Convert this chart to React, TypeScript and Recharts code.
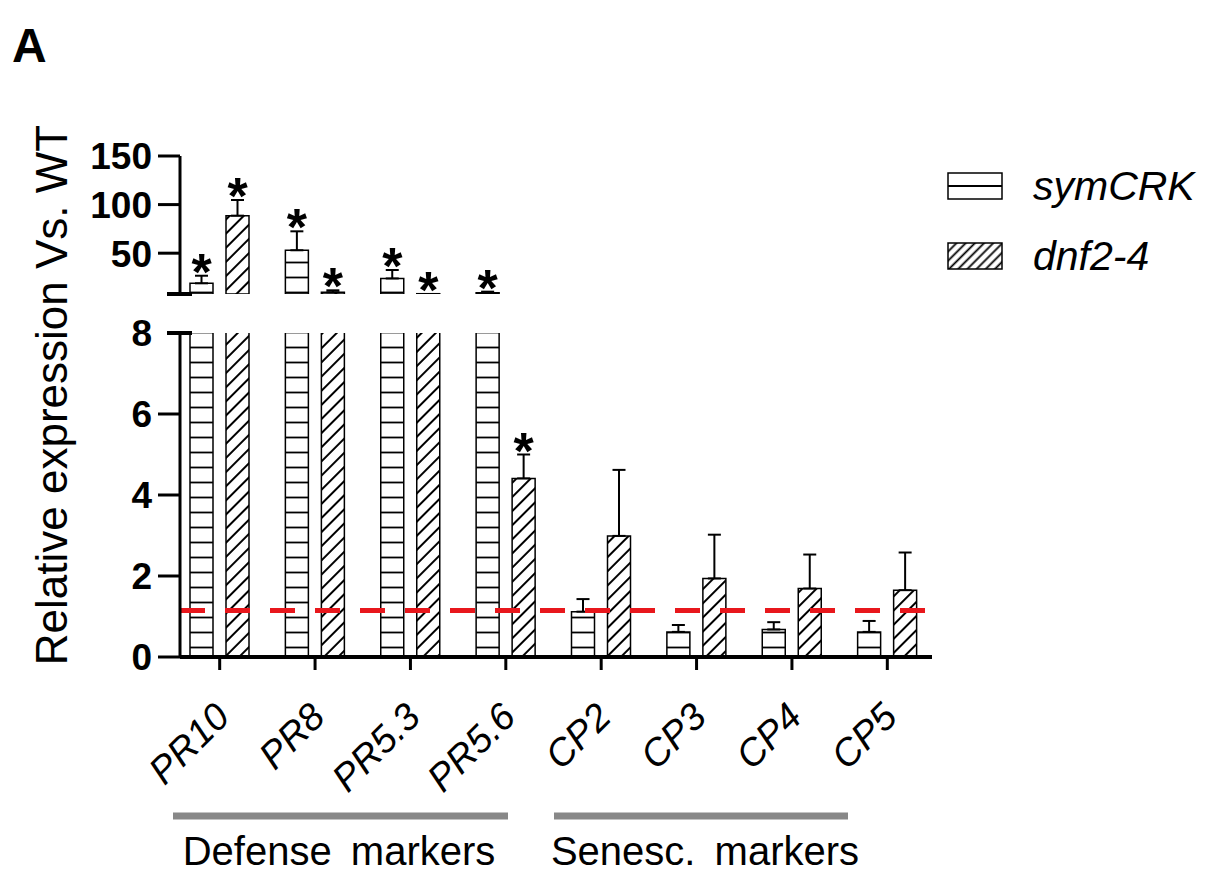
import { Bar, BarChart, ErrorBar, LabelList, ReferenceLine, XAxis, YAxis } from 'recharts'

// values (relative expression vs. WT)
const CATEGORIES = ['PR10', 'PR8', 'PR5.3', 'PR5.6', 'CP2', 'CP3', 'CP4', 'CP5']
const SYMCRK_MEAN = [19, 53, 24, 9.3, 1.12, 0.62, 0.68, 0.62]
const SYMCRK_SD = [7.8, 19.5, 8.7, 1.1, 0.31, 0.17, 0.18, 0.27]
const SYMCRK_SIG = [true, true, true, true, false, false, false, false]
const DNF_MEAN = [88.6, 9.8, 8.3, 4.41, 2.99, 1.94, 1.69, 1.65]
const DNF_SD = [16.1, 2, 0, 0.59, 1.63, 1.08, 0.84, 0.93]
const DNF_SIG = [true, true, true, true, false, false, false, false]

const BREAK_AT = 8
const TOP_TICKS = [8, 50, 100, 150]
const BOTTOM_TICKS = [0, 2, 4, 6, 8]
const WT_LEVEL = 1.15

const FONT = '"Liberation Sans", Arial, sans-serif'
const TICK_SIZE = 22
const TICK_MARGIN = 6
const STAR_OFFSET = 14

const buildRows = (keep: (v: number) => boolean) =>
  CATEGORIES.map((name, i) => ({
    name,
    sym: keep(SYMCRK_MEAN[i]) ? SYMCRK_MEAN[i] : null,
    symErr: keep(SYMCRK_MEAN[i]) && SYMCRK_SD[i] > 0 ? [0, SYMCRK_SD[i]] : null,
    dnf: keep(DNF_MEAN[i]) ? DNF_MEAN[i] : null,
    dnfErr: keep(DNF_MEAN[i]) && DNF_SD[i] > 0 ? [0, DNF_SD[i]] : null,
  }))

const topRows = buildRows((v) => v >= BREAK_AT)
const bottomRows = buildRows(() => true)

function makeYTick(labelBreak: boolean) {
  return function YTick(props: any) {
    const { x, y, payload } = props
    const axisX = x + TICK_SIZE + TICK_MARGIN
    const isBreak = payload.value === BREAK_AT
    return (
      <g>
        {isBreak ? (
          <line x1={axisX - 13} x2={axisX + 12} y1={y} y2={y} stroke="#000" strokeWidth={4} />
        ) : (
          <line x1={axisX - TICK_SIZE} x2={axisX} y1={y} y2={y} stroke="#000" strokeWidth={3} />
        )}
        {(!isBreak || labelBreak) && (
          <text x={x} y={y} dy="0.36em" textAnchor="end" fontSize={37} fontWeight="bold" fontFamily={FONT} fill="#000">
            {payload.value}
          </text>
        )}
      </g>
    )
  }
}

function CategoryTick(props: any) {
  const { x, y, payload } = props
  return (
    <g transform={`translate(${x + 12},${y + 47})`}>
      <text textAnchor="end" transform="rotate(-45)" fontSize={38} fontStyle="italic" fontFamily={FONT} fill="#000">
        {payload.value}
      </text>
    </g>
  )
}

function makeStar(means: number[], sds: number[], sigs: boolean[], base: number, show: (v: number) => boolean) {
  return function Star(props: any) {
    const { index } = props
    const vb = props.viewBox ?? props
    const { x, y, width, height } = vb
    if (!sigs[index] || !show(means[index])) return null
    const perUnit = height / (means[index] - base)
    const errTop = y - (sds[index] || 0) * perUnit
    return (
      <text x={x + width / 2} y={errTop + STAR_OFFSET} textAnchor="middle" fontSize={52} fontWeight="bold" fontFamily={FONT} fill="#000">
        *
      </text>
    )
  }
}

function Patterns() {
  return (
    <svg width={0} height={0} style={{ position: 'absolute' }}>
      <defs>
        <pattern id="hlines" patternUnits="userSpaceOnUse" width={10} height={15}>
          <rect width={10} height={15} fill="#fff" />
          <line x1={0} x2={10} y1={7.5} y2={7.5} stroke="#000" strokeWidth={1.8} />
        </pattern>
        <pattern id="diag" patternUnits="userSpaceOnUse" width={10} height={10} patternTransform="rotate(45)">
          <rect width={10} height={10} fill="#fff" />
          <line x1={5} x2={5} y1={0} y2={10} stroke="#000" strokeWidth={2} />
        </pattern>
        <pattern id="diagLegend" patternUnits="userSpaceOnUse" width={6.5} height={6.5} patternTransform="rotate(45)">
          <rect width={6.5} height={6.5} fill="#fff" />
          <line x1={3.25} x2={3.25} y1={0} y2={6.5} stroke="#000" strokeWidth={1.8} />
        </pattern>
      </defs>
    </svg>
  )
}

const barProps = { stroke: '#000', strokeWidth: 1.5, isAnimationActive: false, barSize: 23 }
const errProps = { stroke: '#000', strokeWidth: 2, width: 6.5 }

export default function App() {
  return (
    <div style={{ position: 'fixed', left: 0, top: 0, width: 1208, height: 875, background: '#fff', fontFamily: FONT }}>
      <Patterns />

      {/* upper panel, above the axis break (its svg overlaps the lower one, both are transparent) */}
      <div style={{ position: 'absolute', left: 0, top: 0 }}>
        <BarChart
          width={1208}
          height={340}
          data={topRows}
          barGap={13}
          style={{ overflow: 'visible' }}
          margin={{ top: 156, right: 276, bottom: 46, left: 100 }}
        >
          <XAxis dataKey="name" hide padding={{ left: -8, right: -3 }} />
          <YAxis
            width={80}
            domain={[BREAK_AT, 150]}
            ticks={TOP_TICKS}
            allowDataOverflow
            tickSize={TICK_SIZE}
            tickMargin={TICK_MARGIN}
            tickLine={false}
            axisLine={{ stroke: '#000', strokeWidth: 3 }}
            tick={makeYTick(false)}
          />
          <Bar dataKey="sym" fill="url(#hlines)" {...barProps}>
            <ErrorBar dataKey="symErr" {...errProps} />
            <LabelList dataKey="sym" content={makeStar(SYMCRK_MEAN, SYMCRK_SD, SYMCRK_SIG, BREAK_AT, (v) => v >= BREAK_AT)} />
          </Bar>
          <Bar dataKey="dnf" fill="url(#diag)" {...barProps}>
            <ErrorBar dataKey="dnfErr" {...errProps} />
            <LabelList dataKey="dnf" content={makeStar(DNF_MEAN, DNF_SD, DNF_SIG, BREAK_AT, (v) => v >= BREAK_AT)} />
          </Bar>
        </BarChart>
      </div>

      {/* lower panel, 0 to 8 */}
      <div style={{ position: 'absolute', left: 0, top: 295 }}>
        <BarChart
          width={1208}
          height={580}
          data={bottomRows}
          barGap={13}
          style={{ overflow: 'visible' }}
          margin={{ top: 38, right: 276, bottom: 118, left: 100 }}
        >
          <XAxis
            dataKey="name"
            height={100}
            padding={{ left: -8, right: -3 }}
            axisLine={{ stroke: '#000', strokeWidth: 4 }}
            tickLine={{ stroke: '#000', strokeWidth: 3 }}
            tickSize={13}
            tickMargin={2}
            interval={0}
            tick={<CategoryTick />}
          />
          <YAxis
            width={80}
            domain={[0, BREAK_AT]}
            ticks={BOTTOM_TICKS}
            allowDataOverflow
            tickSize={TICK_SIZE}
            tickMargin={TICK_MARGIN}
            tickLine={false}
            axisLine={{ stroke: '#000', strokeWidth: 3 }}
            tick={makeYTick(true)}
          />
          <Bar dataKey="sym" fill="url(#hlines)" {...barProps}>
            <ErrorBar dataKey="symErr" {...errProps} />
            <LabelList dataKey="sym" content={makeStar(SYMCRK_MEAN, SYMCRK_SD, SYMCRK_SIG, 0, (v) => v < BREAK_AT)} />
          </Bar>
          <Bar dataKey="dnf" fill="url(#diag)" {...barProps}>
            <ErrorBar dataKey="dnfErr" {...errProps} />
            <LabelList dataKey="dnf" content={makeStar(DNF_MEAN, DNF_SD, DNF_SIG, 0, (v) => v < BREAK_AT)} />
          </Bar>
          <ReferenceLine y={WT_LEVEL} stroke="#e8171c" strokeWidth={5} strokeDasharray="25 20" />
        </BarChart>
      </div>

      {/* labels and group brackets */}
      <svg width={1208} height={875} style={{ position: 'absolute', left: 0, top: 0, pointerEvents: 'none' }}>
        <text x={12} y={62} fontSize={48} fontWeight="bold" fontFamily={FONT}>A</text>
        <text transform="translate(67,395) rotate(-90)" textAnchor="middle" fontSize={44} fontFamily={FONT}>
          Relative expression Vs. WT
        </text>
        <line x1={173} x2={508} y1={816} y2={816} stroke="#888" strokeWidth={7} />
        <line x1={554} x2={848} y1={816} y2={816} stroke="#888" strokeWidth={7} />
        <text x={339} y={865} textAnchor="middle" fontSize={40} fontFamily={FONT} wordSpacing={8}>Defense markers</text>
        <text x={705} y={865} textAnchor="middle" fontSize={40} fontFamily={FONT} wordSpacing={8}>Senesc. markers</text>

        <rect x={948} y={173} width={54} height={26} fill="#fff" stroke="#000" strokeWidth={1.5} />
        <line x1={948} x2={1002} y1={186} y2={186} stroke="#000" strokeWidth={2} />
        <text x={1033} y={200} fontSize={41} fontStyle="italic" fontFamily={FONT}>symCRK</text>
        <rect x={948} y={243} width={54} height={26} fill="url(#diagLegend)" stroke="#000" strokeWidth={1.5} />
        <text x={1033} y={270} fontSize={41} fontStyle="italic" fontFamily={FONT}>dnf2-4</text>
      </svg>
    </div>
  )
}
